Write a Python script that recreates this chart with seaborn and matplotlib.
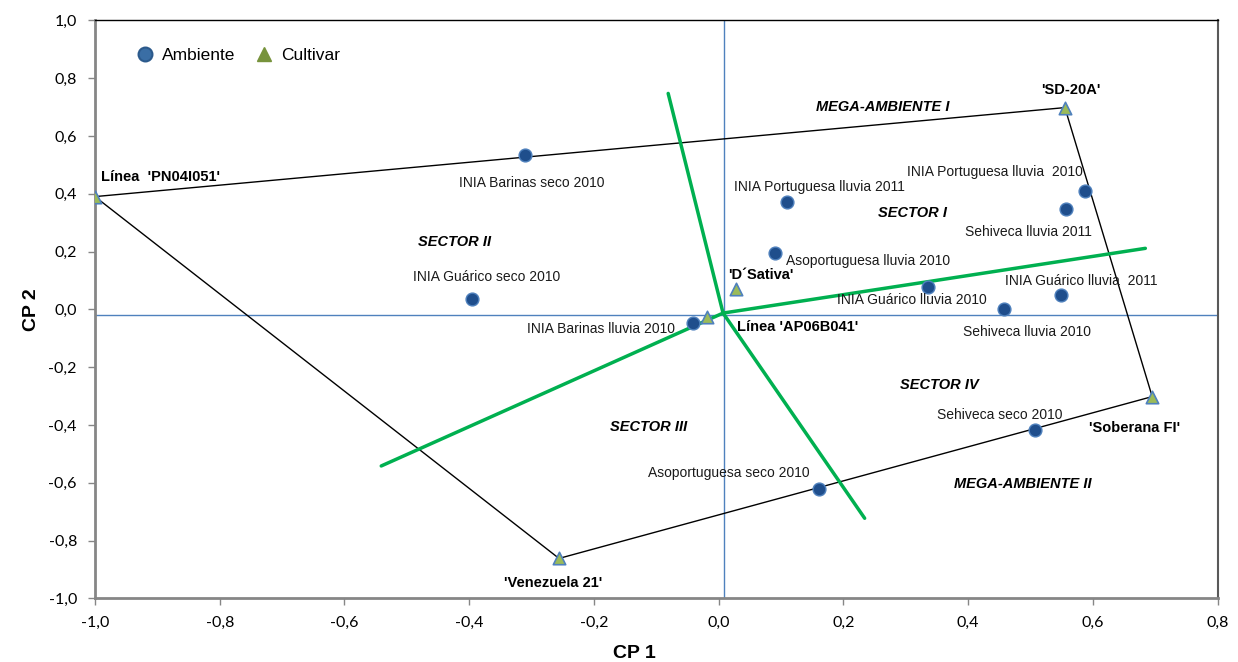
import numpy as np
import pandas as pd
import seaborn as sns
from matplotlib import pyplot as plt
from matplotlib.lines import Line2D
from matplotlib.ticker import FuncFormatter

# environments (Ambiente)
env_names = ['INIA Barinas seco 2010', 'INIA Guárico seco 2010', 'INIA Portuguesa lluvia 2011',
             'INIA Portuguesa lluvia  2010', 'Sehiveca lluvia 2011', 'Asoportuguesa lluvia 2010',
             'INIA Guárico lluvia 2010', 'Sehiveca lluvia 2010', 'INIA Guárico lluvia  2011',
             'INIA Barinas lluvia 2010', 'Sehiveca seco 2010', 'Asoportuguesa seco 2010']
env_cp1 = [-0.311, -0.395, 0.109, 0.588, 0.557, 0.091, 0.336, 0.457, 0.548, -0.041, 0.507, 0.161]
env_cp2 = [0.534, 0.035, 0.371, 0.409, 0.348, 0.196, 0.076, 0.002, 0.048, -0.048, -0.417, -0.622]

# cultivars
cult_names = ["Línea  'PN04I051'", "'SD-20A'", "'Soberana FI'", "'Venezuela 21'",
              "'D´Sativa'", "Línea 'AP06B041'"]
cult_cp1 = [-1.0, 0.555, 0.695, -0.256, 0.027, -0.018]
cult_cp2 = [0.39, 0.698, -0.302, -0.862, 0.071, -0.025]

# polygon vertices (index into cultivars)
hull = [0, 1, 2, 3, 0]

# sector rays from the origin
ray_origin = (0.007, -0.013)
ray_end_cp1 = [-0.081, 0.684, 0.234, -0.541]
ray_end_cp2 = [0.747, 0.211, -0.723, -0.542]

# axis lines
origin_cp1 = 0.009
origin_cp2 = -0.018

sectors = ['MEGA-AMBIENTE I', 'SECTOR I', 'SECTOR II', 'SECTOR III', 'SECTOR IV', 'MEGA-AMBIENTE II']

sns.set_style('white')
plt.rcParams['font.family'] = ['Liberation Sans', 'DejaVu Sans']
plt.rcParams['text.color'] = 'black'
plt.rcParams['xtick.color'] = 'black'
plt.rcParams['ytick.color'] = 'black'

fig = plt.figure(figsize=(12.38, 6.62), dpi=100)
ax = fig.add_axes([0.0767, 0.0962, 0.9069, 0.8731])

ax.axvline(origin_cp1, color='#4F81BD', lw=1, zorder=1)
ax.axhline(origin_cp2, color='#4F81BD', lw=1, zorder=1)

hx = [cult_cp1[i] for i in hull]
hy = [cult_cp2[i] for i in hull]
ax.plot(hx, hy, color='black', lw=1, zorder=2)

for ex, ey in zip(ray_end_cp1, ray_end_cp2):
    ax.plot([ray_origin[0], ex], [ray_origin[1], ey], color='#00B050', lw=2.5, zorder=2)

env_df = pd.DataFrame({'CP1': env_cp1, 'CP2': env_cp2})
cult_df = pd.DataFrame({'CP1': cult_cp1, 'CP2': cult_cp2})
sns.scatterplot(data=env_df, x='CP1', y='CP2', ax=ax, s=85, color='#1F4E8C',
                edgecolor='#4F81BD', linewidth=1, zorder=4)
sns.scatterplot(data=cult_df, x='CP1', y='CP2', ax=ax, marker='^', s=80, color='#9BBB59',
                edgecolor='#4F81BD', linewidth=1.2, zorder=4)

# environment labels
env_lab = [(-0.30, 0.437), (-0.372, 0.112), (0.162, 0.424), (0.443, 0.474), (0.497, 0.266),
           (0.239, 0.166), (0.309, 0.032), (0.495, -0.080), (0.582, 0.097), (-0.188, -0.069),
           (0.450, -0.366), (0.017, -0.567)]
for name, (lx, ly) in zip(env_names, env_lab):
    ax.text(lx, ly, name, fontsize=10, ha='center', va='center', color='#1a1a1a', zorder=5)

cult_lab = [(-0.99, 0.459, 'left'), (0.565, 0.759, 'center'), (0.667, -0.410, 'center'),
            (-0.266, -0.947, 'center'), (0.0675, 0.119, 'center'), (0.029, -0.060, 'left')]
for name, (lx, ly, ha) in zip(cult_names, cult_lab):
    ax.text(lx, ly, name, fontsize=10.5, fontweight='bold', ha=ha, va='center', zorder=5)

sec_lab = [(0.263, 0.701), (0.310, 0.332), (-0.423, 0.234), (-0.112, -0.407),
           (0.353, -0.261), (0.488, -0.603)]
for name, (lx, ly) in zip(sectors, sec_lab):
    ax.text(lx, ly, name, fontsize=10.5, fontweight='bold', fontstyle='italic',
            ha='center', va='center', zorder=5)

ax.set_xlim(-1.0, 0.8)
ax.set_ylim(-1.0, 1.0)
ax.set_xticks(np.arange(-1.0, 0.81, 0.2))
ax.set_yticks(np.arange(-1.0, 1.01, 0.2))
fmt = FuncFormatter(lambda v, p: f'{v:.1f}'.replace('.', ',').replace('-0,0', '0,0'))
ax.xaxis.set_major_formatter(fmt)
ax.yaxis.set_major_formatter(fmt)
ax.tick_params(axis='both', which='major', direction='out', length=5, width=1,
               color='#868686', labelcolor='black', labelsize=11.5, pad=8, left=True, bottom=True)
for lab in ax.get_xticklabels() + ax.get_yticklabels():
    lab.set_family(['Lato', 'DejaVu Sans'])

ax.spines['left'].set_color('#868686')
ax.spines['left'].set_linewidth(2)
ax.spines['bottom'].set_color('#868686')
ax.spines['bottom'].set_linewidth(2)
ax.spines['top'].set_color('black')
ax.spines['top'].set_linewidth(1)
ax.spines['right'].set_color('#595959')
ax.spines['right'].set_linewidth(1.5)

ax.set_xlabel('')
ax.set_ylabel('')
fig.text(634 / 1238, 1 - 653 / 662, 'CP 1', fontsize=14, fontweight='bold', ha='center', va='center')
fig.text(31 / 1238, 1 - 310 / 662, 'CP 2', fontsize=14, fontweight='bold', ha='center',
         va='center', rotation=90)

handles = [
    Line2D([], [], marker='o', ls='none', markersize=10, markerfacecolor='#3A6EA5',
           markeredgecolor='#2C5A8C', markeredgewidth=1.5),
    Line2D([], [], marker='^', ls='none', markersize=10, markerfacecolor='#77933C',
           markeredgecolor='#77933C'),
]
ax.legend(handles, ['Ambiente', 'Cultivar'], loc='upper left', bbox_to_anchor=(0.023, 0.979),
          ncol=2, frameon=False, fontsize=12.5, handlelength=1, handletextpad=0.45,
          columnspacing=1.2)

plt.savefig('out.png', dpi=100)
plt.close()
